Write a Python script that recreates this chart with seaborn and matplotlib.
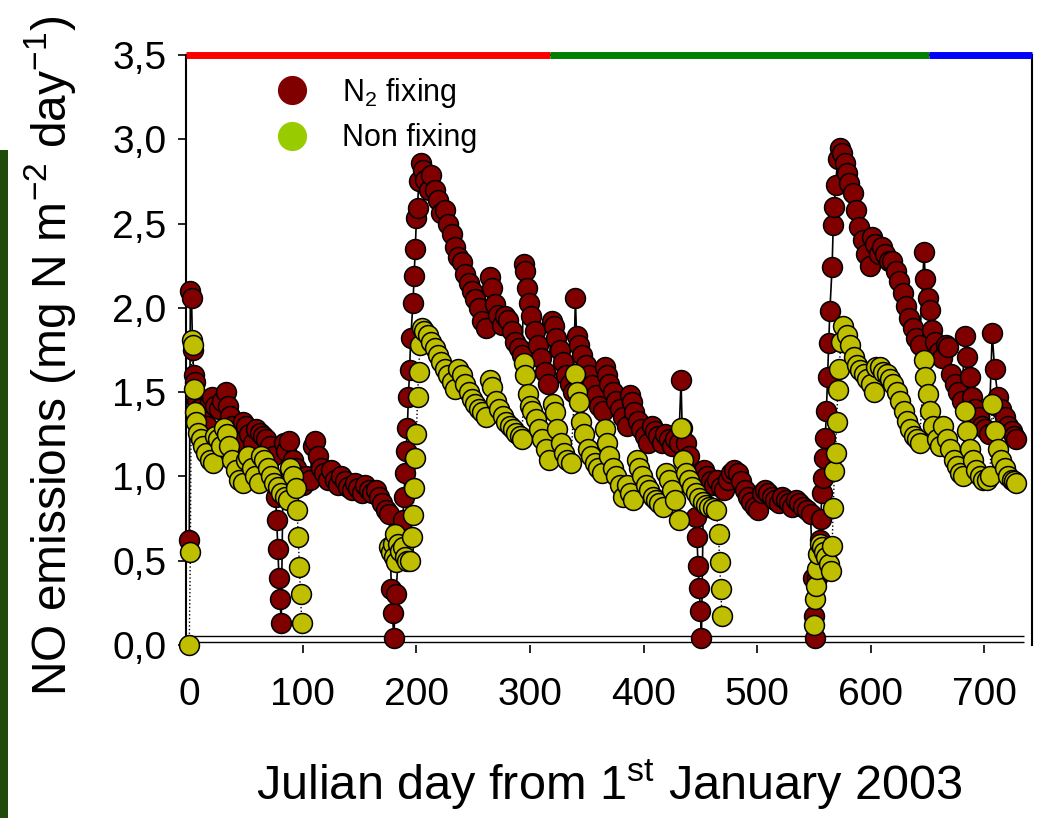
import numpy as np
import pandas as pd
import seaborn as sns
import matplotlib.pyplot as plt
from matplotlib.lines import Line2D
from matplotlib.patches import Rectangle
from matplotlib.ticker import FuncFormatter, MultipleLocator

# N2 fixing (day, mg N m-2 day-1)
fix_day_1 = [0, 1, 2, 3, 4, 5, 7, 9, 11, 13,
             16, 18, 20, 23, 26, 29, 32, 34, 36, 38,
             41, 44, 47, 50, 53, 56, 59, 62, 65, 68,
             71, 74, 76, 77, 78, 79, 80, 81, 83, 85,
             88, 91, 94, 97, 100, 103, 106, 109, 111, 113,
             116, 119, 122, 125, 128, 131, 134, 137, 140, 143,
             146, 149, 152, 155, 158, 161, 164, 167, 170, 173,
             176, 178, 179, 180, 182, 184, 186, 188, 189, 190,
             191, 192, 193, 194, 195, 197, 198, 199, 200, 201,
             202, 204]
fix_no_1 = [0.62, 2.10, 2.06, 1.75, 1.60, 1.56, 1.45, 1.40, 1.36, 1.33,
            1.30, 1.44, 1.47, 1.42, 1.40, 1.45, 1.50, 1.42, 1.36, 1.30,
            1.25, 1.20, 1.32, 1.30, 1.25, 1.20, 1.28, 1.26, 1.24, 1.22,
            1.18, 1.12, 0.88, 0.74, 0.57, 0.40, 0.27, 0.13, 1.20, 1.15,
            1.21, 1.10, 1.05, 1.00, 0.95, 1.00, 0.98, 1.18, 1.21, 1.12,
            1.05, 1.02, 0.98, 1.04, 0.98, 0.95, 1.00, 0.97, 0.94, 0.92,
            0.96, 0.93, 0.90, 0.95, 0.92, 0.90, 0.92, 0.88, 0.84, 0.80,
            0.78, 0.33, 0.19, 0.04, 0.30, 0.52, 0.65, 0.74, 0.88, 1.02,
            1.15, 1.29, 1.47, 1.63, 1.82, 2.03, 2.19, 2.35, 2.53, 2.59,
            2.75, 2.86]

fix_day_2 = [206, 208, 211, 213, 216, 219, 222, 225, 228, 231,
             234, 237, 240, 243, 246, 249, 252, 255, 258, 261,
             265, 267, 269, 272, 275, 278, 281, 284, 287, 290,
             293, 295, 296, 297, 299, 301, 304, 307, 310, 313,
             316, 319, 321, 323, 326, 329, 332, 335, 338, 340,
             341, 343, 346, 349, 352, 355, 358, 361, 364, 366,
             368, 370, 373, 376, 379, 382, 385, 388, 390, 392,
             395, 398, 401, 404, 407, 410, 413, 416, 419, 422,
             425, 428, 431, 433, 434, 437, 440, 443, 446, 447,
             448, 449, 450, 451]
fix_no_2 = [2.82, 2.76, 2.70, 2.79, 2.70, 2.64, 2.56, 2.58, 2.50, 2.44,
            2.36, 2.30, 2.27, 2.20, 2.15, 2.10, 2.05, 2.00, 1.92, 1.88,
            2.18, 2.12, 2.02, 1.96, 1.90, 1.95, 1.93, 1.86, 1.80, 1.76,
            1.72, 2.26, 2.22, 2.12, 2.03, 1.95, 1.86, 1.78, 1.70, 1.62,
            1.55, 1.92, 1.89, 1.82, 1.75, 1.68, 1.60, 1.55, 1.50, 2.06,
            1.83, 1.78, 1.72, 1.66, 1.60, 1.54, 1.48, 1.42, 1.39, 1.65,
            1.60, 1.55, 1.50, 1.45, 1.40, 1.35, 1.30, 1.48, 1.44, 1.38,
            1.33, 1.28, 1.24, 1.20, 1.30, 1.27, 1.24, 1.20, 1.25, 1.22,
            1.18, 1.22, 1.20, 1.57, 1.29, 1.20, 1.12, 1.00, 0.76, 0.64,
            0.47, 0.34, 0.20, 0.04]

fix_day_3 = [453, 456, 459, 462, 465, 468, 471, 474, 477, 480,
             483, 486, 489, 492, 495, 498, 501, 504, 507, 510,
             513, 516, 519, 522, 525, 528, 531, 534, 537, 540,
             544, 547, 549, 550, 551, 553, 555, 556, 557, 558,
             559, 560, 561, 562, 563, 564, 566, 567, 568, 569,
             571, 573]
fix_no_3 = [1.04, 1.00, 0.97, 0.95, 0.98, 0.94, 0.92, 0.98, 1.02, 1.04,
            1.02, 0.97, 0.92, 0.88, 0.85, 0.82, 0.80, 0.90, 0.92, 0.90,
            0.88, 0.86, 0.84, 0.88, 0.86, 0.84, 0.82, 0.86, 0.84, 0.82,
            0.80, 0.78, 0.40, 0.17, 0.04, 0.40, 0.62, 0.75, 0.90, 0.99,
            1.11, 1.23, 1.39, 1.59, 1.79, 1.98, 2.24, 2.49, 2.60, 2.73,
            2.88, 2.95]

fix_day_4 = [575, 577, 579, 581, 584, 587, 590, 593, 596, 599,
             601, 604, 607, 610, 613, 616, 619, 622, 625, 628,
             631, 634, 637, 640, 643, 647, 648, 650, 652, 654,
             657, 660, 663, 666, 668, 671, 674, 677, 680, 683,
             685, 687, 689, 692, 695, 698, 701, 704, 707, 709,
             712, 715, 718, 721, 724, 726, 728]
fix_no_4 = [2.92, 2.86, 2.80, 2.74, 2.68, 2.58, 2.48, 2.40, 2.32, 2.25,
            2.42, 2.38, 2.32, 2.36, 2.32, 2.28, 2.28, 2.22, 2.16, 2.09,
            2.01, 1.94, 1.88, 1.82, 1.78, 2.33, 2.17, 2.06, 1.99, 1.87,
            1.80, 1.74, 1.70, 1.78, 1.77, 1.61, 1.55, 1.50, 1.45, 1.83,
            1.71, 1.59, 1.47, 1.40, 1.35, 1.30, 1.28, 1.25, 1.85, 1.64,
            1.47, 1.40, 1.35, 1.30, 1.27, 1.24, 1.22]

# Non fixing (three runs with gaps in between)
non_day_1 = [0, 1, 2, 3, 4, 5, 6, 8, 10, 12,
             15, 18, 21, 23, 25, 28, 31, 33, 35, 38,
             41, 44, 47, 50, 52, 55, 58, 61, 63, 66,
             69, 72, 75, 78, 81, 84, 87, 89, 91, 94,
             95, 96, 97, 98, 99]
non_no_1 = [0.00, 0.55, 1.81, 1.78, 1.52, 1.38, 1.32, 1.26, 1.22, 1.18,
            1.14, 1.10, 1.08, 1.24, 1.22, 1.18, 1.29, 1.25, 1.18, 1.10,
            1.04, 0.98, 0.96, 1.10, 1.12, 1.05, 1.00, 0.96, 1.12, 1.10,
            1.05, 1.00, 0.96, 0.94, 0.90, 0.88, 0.86, 1.05, 1.00, 0.93,
            0.80, 0.64, 0.46, 0.30, 0.13]

non_day_2 = [176, 178, 179, 180, 181, 182, 184, 186, 188, 190,
             192, 194, 196, 197, 198, 199, 200, 201, 202, 203,
             205, 207, 210, 213, 216, 219, 222, 225, 228, 231,
             234, 237, 240, 243, 246, 249, 252, 255, 258, 261,
             265, 267, 270, 273, 276, 279, 282, 285, 288, 291,
             293, 295, 296, 298, 300, 302, 305, 308, 311, 314,
             317, 320, 322, 324, 327, 330, 333, 336, 340, 341,
             343, 345, 348, 351, 354, 357, 360, 363, 366, 368,
             370, 373, 376, 379, 382, 385, 388, 391, 394, 396,
             399, 402, 405, 408, 411, 414, 417, 420, 422, 425,
             428, 431, 433, 435, 437, 440, 443, 446, 449, 452,
             455, 458, 461, 464, 466, 467, 468, 469]
non_no_2 = [0.58, 0.55, 0.60, 0.52, 0.66, 0.49, 0.60, 0.56, 0.58, 0.52,
            0.50, 0.50, 0.64, 0.77, 0.93, 1.11, 1.25, 1.47, 1.62, 1.78,
            1.88, 1.86, 1.84, 1.80, 1.76, 1.72, 1.68, 1.64, 1.60, 1.56,
            1.52, 1.64, 1.60, 1.55, 1.50, 1.46, 1.43, 1.40, 1.38, 1.35,
            1.57, 1.53, 1.45, 1.40, 1.36, 1.32, 1.30, 1.28, 1.26, 1.24,
            1.22, 1.67, 1.60, 1.49, 1.42, 1.39, 1.34, 1.28, 1.22, 1.16,
            1.10, 1.43, 1.38, 1.28, 1.20, 1.14, 1.10, 1.08, 1.61, 1.50,
            1.44, 1.32, 1.25, 1.16, 1.12, 1.08, 1.05, 1.02, 1.28, 1.20,
            1.12, 1.05, 1.00, 0.95, 0.88, 0.95, 0.90, 0.86, 1.10, 1.05,
            1.00, 0.95, 0.92, 0.88, 0.86, 0.84, 0.82, 1.02, 0.98, 0.92,
            0.86, 0.74, 1.29, 1.10, 1.02, 0.98, 0.94, 0.90, 0.87, 0.85,
            0.83, 0.82, 0.81, 0.80, 0.66, 0.49, 0.33, 0.17]

non_day_3 = [550, 551, 552, 553, 554, 555, 557, 559, 561, 563,
             565, 566, 567, 568, 569, 570, 571, 572, 574, 576,
             579, 582, 585, 588, 591, 594, 597, 600, 603, 605,
             608, 611, 614, 617, 620, 623, 626, 629, 632, 635,
             638, 641, 643, 647, 648, 650, 652, 655, 658, 661,
             664, 667, 670, 673, 676, 679, 681, 683, 685, 687,
             690, 693, 696, 699, 702, 705, 707, 709, 712, 715,
             718, 721, 724, 726, 728]
non_no_3 = [0.12, 0.27, 0.35, 0.45, 0.54, 0.60, 0.58, 0.55, 0.52, 0.48,
            0.44, 0.59, 0.81, 1.03, 1.14, 1.32, 1.51, 1.64, 1.80, 1.89,
            1.84, 1.78, 1.71, 1.66, 1.63, 1.61, 1.58, 1.55, 1.50, 1.65,
            1.65, 1.62, 1.61, 1.58, 1.55, 1.50, 1.45, 1.39, 1.33, 1.28,
            1.24, 1.22, 1.20, 1.69, 1.59, 1.49, 1.39, 1.30, 1.22, 1.18,
            1.30, 1.22, 1.16, 1.10, 1.06, 1.02, 1.00, 1.39, 1.27, 1.16,
            1.10, 1.04, 1.00, 0.98, 0.98, 1.00, 1.43, 1.27, 1.16, 1.10,
            1.05, 1.00, 0.98, 0.97, 0.96]

# coloured bar along the top (periods)
period_edges = [-3, 318, 651, 742]
period_colors = ["#FF0000", "#008000", "#0000FF"]

fix = pd.DataFrame({"day": fix_day_1 + fix_day_2 + fix_day_3 + fix_day_4,
                    "no": fix_no_1 + fix_no_2 + fix_no_3 + fix_no_4})
non = pd.concat([
    pd.DataFrame({"day": d, "no": v, "run": i})
    for i, (d, v) in enumerate([(non_day_1, non_no_1),
                                (non_day_2, non_no_2),
                                (non_day_3, non_no_3)])
], ignore_index=True)

sns.set_style("ticks")
plt.rcParams["font.family"] = ["Liberation Sans", "DejaVu Sans"]
plt.rcParams["mathtext.fontset"] = "custom"
plt.rcParams["mathtext.rm"] = "Liberation Sans"
plt.rcParams["mathtext.it"] = "Liberation Sans:italic"
for key in ["text.color", "axes.labelcolor", "xtick.color", "ytick.color"]:
    plt.rcParams[key] = "black"

fig = plt.figure(figsize=(10.44, 8.18), dpi=100)
ax = fig.add_axes([0.178, 0.2115, 0.8105, 0.7213])

sns.lineplot(data=fix, x="day", y="no", color="black", lw=1.2,
             estimator=None, sort=False, ax=ax, zorder=2)
sns.lineplot(data=non, x="day", y="no", units="run", color="black", lw=1.0,
             linestyle=":", estimator=None, sort=False, ax=ax, zorder=2)
sns.scatterplot(data=fix, x="day", y="no", color="#800000", s=205,
                edgecolor="black", linewidth=1.1, ax=ax, zorder=3,
                legend=False, clip_on=False)
sns.scatterplot(data=non, x="day", y="no", color="#BFBF00", s=205,
                edgecolor="black", linewidth=1.1, ax=ax, zorder=4,
                legend=False, clip_on=False)

# double line just above zero
ax.hlines([0.052, 0.020], -3, 735, color="black", lw=1.0, zorder=1)

n_per = len(period_colors)
ax.hlines([3.5] * n_per, period_edges[:-1], period_edges[1:], colors=period_colors,
          lw=5, clip_on=False, zorder=6)

ax.set_xlim(-3, 742)
ax.set_ylim(0, 3.5)
ax.xaxis.set_major_locator(MultipleLocator(100))
ax.yaxis.set_major_locator(MultipleLocator(0.5))
ax.yaxis.set_major_formatter(FuncFormatter(lambda v, p: f"{v:.1f}".replace(".", ",")))
ax.tick_params(axis="both", direction="out", length=6, width=1.2,
               labelsize=28, colors="black")
ax.tick_params(axis="x", pad=17)
ax.tick_params(axis="y", pad=8)
for side in ["left", "right", "top"]:
    ax.spines[side].set_linewidth(1.5)
    ax.spines[side].set_color("black")
ax.spines["bottom"].set_visible(False)

ax.set_xlabel(r"Julian day from 1$^{\mathrm{st}}$ January 2003", fontsize=35)
ax.set_ylabel(r"NO emissions (mg N m$^{\mathrm{-2}}$ day$^{\mathrm{-1}}$)", fontsize=34.5)
ax.xaxis.set_label_coords(0.5, -0.19)
ax.yaxis.set_label_coords(-0.128, 0.49)

handles = [Line2D([], [], ls="none", marker="o", ms=21, mfc="#800000", mec="none"),
           Line2D([], [], ls="none", marker="o", ms=21, mfc="#99CC00", mec="none")]
ax.legend(handles, [r"N$_2$ fixing", "Non fixing"], loc="upper left",
          bbox_to_anchor=(0.1076, 0.965), frameon=False, fontsize=22,
          handlelength=1.0, handletextpad=1.14, labelspacing=0.45,
          borderpad=0, borderaxespad=0)

fig.add_artist(Rectangle((0, 0), 8 / 1044, 668 / 818, transform=fig.transFigure,
                         color="#1f4a0c", lw=0))

fig.savefig("out.png", dpi=100)
